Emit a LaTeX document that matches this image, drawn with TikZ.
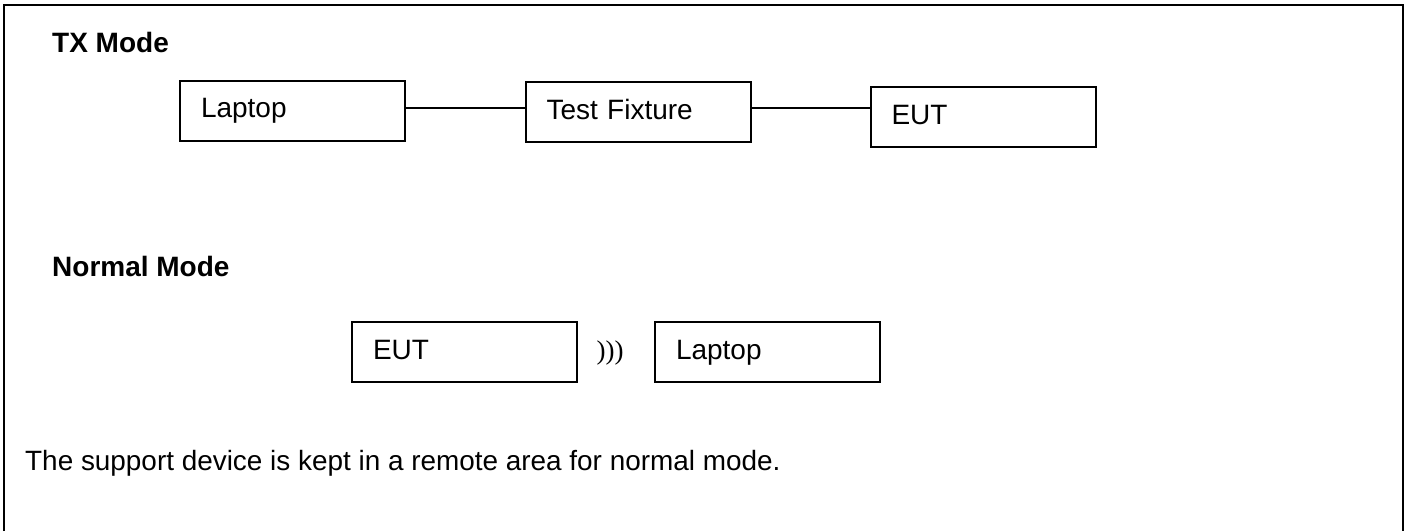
\documentclass[tikz,border=0pt]{standalone}
\usepackage{fontspec}
\setmainfont{Liberation Sans}
\newfontfamily\parenfont{Liberation Serif}
\begin{document}
\begin{tikzpicture}[x=1pt,y=-1pt,
  devbox/.style={draw, line width=2pt, minimum width=225pt, minimum height=60pt,
    inner xsep=21pt, inner ysep=0pt, text width=183pt, align=left,
    text height=20pt, text depth=6pt, font=\fontsize{28}{34}\selectfont},
  title/.style={anchor=base west, inner sep=0pt, font=\fontsize{28}{34}\selectfont\bfseries},
  note/.style={anchor=base west, inner sep=0pt, font=\fontsize{27.9}{34}\selectfont},
  wire/.style={line width=2pt},
  frame/.style={line width=2.5pt}]
\useasboundingbox (0,0) rectangle (1407,531);
% outer frame (open at the bottom)
\coordinate (fbl) at (4,531);
\coordinate (ftl) at (4,5);
\coordinate (ftr) at (1403,5);
\coordinate (fbr) at (1403,531);
\draw[frame] (fbl) -- (ftl) -- (ftr) -- (fbr);
% TX mode
\node[title] (txt) at (52,52) {TX Mode};
\node[devbox] (lap1) at (292.5,110.5) {Laptop};
\node[devbox] (tf) at (638,112) {Test Fixture};
\node[devbox] (eut1) at (983,117) {EUT};
\coordinate (c1) at ([yshift=2.5pt]lap1.east);
\coordinate (c2) at ([yshift=4pt]tf.east);
\draw[wire] (c1) -- (c1 -| tf.west);
\draw[wire] (c2) -- (c2 -| eut1.west);
% Normal mode
\node[title] (nmt) at (52,276) {Normal Mode};
\node[devbox] (eut2) at (464.5,352) {EUT};
\node[devbox] (lap2) at (767.5,352) {Laptop};
\node[anchor=base, inner sep=0pt, font=\fontsize{27}{32}\parenfont] (wave) at (610,359) {)))};
% note
\node[note] (nt) at (25,470) {The support device is kept in a remote area for normal mode.};
\end{tikzpicture}
\end{document}
